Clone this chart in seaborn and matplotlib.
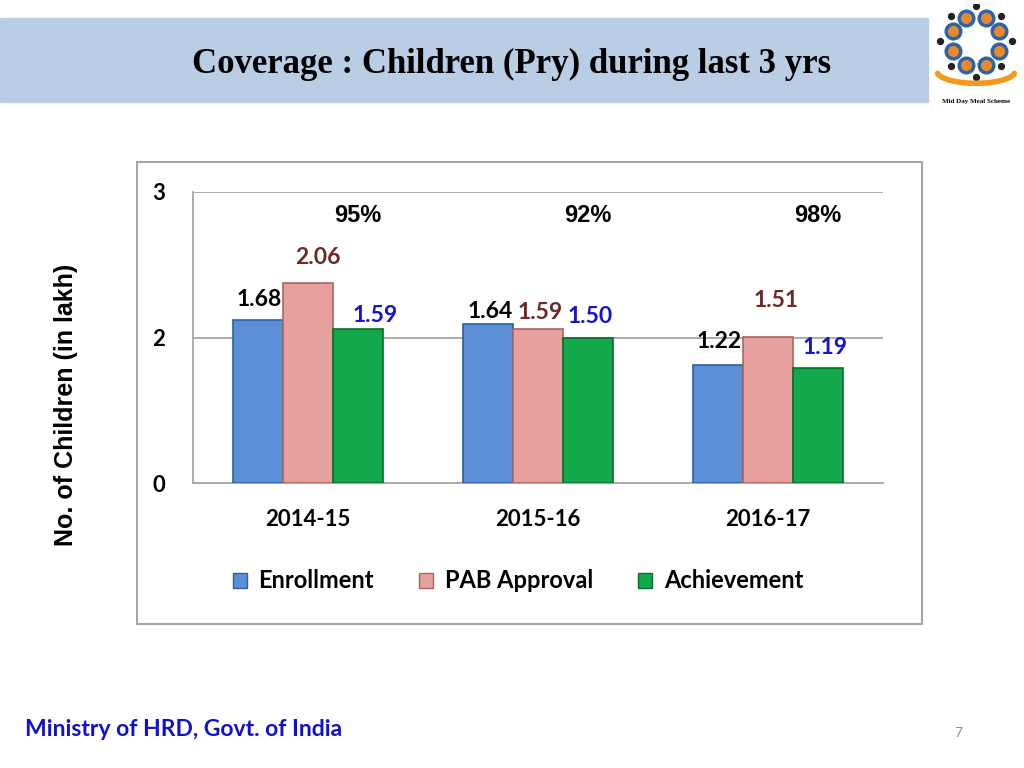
import numpy as np
import pandas as pd
import matplotlib
matplotlib.use("Agg")
import matplotlib.pyplot as plt
import matplotlib.patches as patches
from matplotlib.ticker import FixedLocator, FuncFormatter
import seaborn as sns

# data
years = ["2014-15", "2015-16", "2016-17"]
series = ["Enrollment", "PAB Approval", "Achievement"]
enrollment = [1.68, 1.64, 1.22]
pab_approval = [2.06, 1.59, 1.51]
achievement = [1.59, 1.50, 1.19]
pct_achieved = ["95%", "92%", "98%"]

colors = ["#5B8FD8", "#E6A19E", "#13A94B"]
edge_colors = ["#2F5F9E", "#A86562", "#0B6B2E"]
label_colors = ["#000000", "#6B2A2A", "#1414D2"]

df = pd.DataFrame({
    "year": years * 3,
    "series": [s for s in series for _ in years],
    "value": enrollment + pab_approval + achievement,
})

sns.set_theme(style="white")
plt.rcParams["font.family"] = ["Lato", "DejaVu Sans"]
plt.rcParams["text.color"] = "black"
plt.rcParams["xtick.color"] = "black"
plt.rcParams["ytick.color"] = "black"

fig = plt.figure(figsize=(10.24, 7.68), dpi=100)

# title band
fig.patches.append(patches.Rectangle((0, 1 - 102 / 768), 928 / 1024, 84 / 768,
                                     transform=fig.transFigure, color="#B9CDE5", zorder=0))
fig.text(512 / 1024, 1 - 64 / 768, "Coverage : Children (Pry) during last 3 yrs",
         family="Liberation Serif", weight="bold", fontsize=25, ha="center", va="center")

# chart frame
fig.patches.append(patches.Rectangle((137 / 1024, 1 - 624 / 768), 785 / 1024, 462 / 768,
                                     transform=fig.transFigure, fill=False,
                                     edgecolor="#A6A6A6", linewidth=1.5, zorder=0))

ax = fig.add_axes([193 / 1024, 1 - 483 / 768, 690 / 1024, 291 / 768])
sns.barplot(data=df, x="year", y="value", hue="series", palette=colors, saturation=1,
            width=0.65, gap=0, ax=ax, legend=False, zorder=3)

for container, ec in zip(ax.containers, edge_colors):
    for bar in container:
        bar.set_edgecolor(ec)
        bar.set_linewidth(1.2)

ax.set_xlim(-0.5, 2.5)
ax.set_ylim(0, 3)
ax.yaxis.set_major_locator(FixedLocator([0, 1.5, 3]))
ax.yaxis.set_major_formatter(FuncFormatter(lambda v, p: format(v, ".0f")))
ax.grid(axis="y", color="#A6A6A6", linewidth=1.3, zorder=0)
ax.set_axisbelow(True)
for side in ["top", "right"]:
    ax.spines[side].set_visible(False)
for side in ["left", "bottom"]:
    ax.spines[side].set_color("#A6A6A6")
    ax.spines[side].set_linewidth(1.3)

ax.tick_params(axis="y", length=7, color="#A6A6A6", width=1.3, pad=13, labelsize=16)
ax.tick_params(axis="x", length=0, pad=19, labelsize=16)
ax.xaxis.set_minor_locator(FixedLocator([0.5, 1.5, 2.5]))
ax.tick_params(axis="x", which="minor", length=7, color="#A6A6A6", width=1.3, direction="out")
for lbl in ax.get_xticklabels() + ax.get_yticklabels():
    lbl.set_fontweight("bold")
ax.set_xlabel("")
ax.set_ylabel("")

fig.text(66 / 1024, 1 - 405 / 768, "No. of Children (in lakh)", rotation=90,
         family="Liberation Sans", weight="bold", fontsize=18, ha="center", va="center")

# value labels (pixel offsets from each bar top)
offsets = [
    [(1, 21), (2, 12), (1, 23)],
    [(10, 26), (2, 16), (8, 36)],
    [(17, 13), (2, 21), (7, 20)],
]
for container, col, offs in zip(ax.containers, label_colors, offsets):
    for bar, (dx, dy) in zip(container, offs):
        h = bar.get_height()
        ax.annotate(f"{h:.2f}", (bar.get_x() + bar.get_width() / 2, h),
                    xytext=(dx, dy), textcoords="offset pixels",
                    ha="center", va="center", fontsize=16.5, weight="bold", color=col)

# achievement percentage per year
for i, p in enumerate(pct_achieved):
    ax.annotate(p, (i, 3), xytext=(50, -23), textcoords="offset pixels",
                ha="center", va="center", family="Liberation Sans",
                weight="bold", fontsize=17)

handles = [patches.Patch(facecolor=c, edgecolor=e) for c, e in zip(colors, edge_colors)]
fig.legend(handles, series, loc="center", bbox_to_anchor=(518 / 1024, 1 - 581 / 768),
           ncol=3, frameon=False, prop={"size": 17, "weight": "bold"},
           handlelength=0.6, handleheight=0.6, handletextpad=0.5, columnspacing=1.9)

# footer
fig.text(25 / 1024, 1 - 729 / 768, "Ministry of HRD, Govt. of India", color="#1111CC",
         fontsize=16.5, weight="bold", ha="left", va="center")
fig.text(958 / 1024, 1 - 733 / 768, "7", color="#8C8C8C", fontsize=10, ha="center", va="center")

# simple logo stand-in
lax = fig.add_axes([932 / 1024, 1 - 112 / 768, 88 / 1024, 108 / 768])
lax.set_xlim(-1.3, 1.3)
lax.set_ylim(-1.9, 1.3)
lax.axis("off")
ang = np.linspace(0, 2 * np.pi, 8, endpoint=False) + np.pi / 8
lax.scatter(np.cos(ang) * 0.75, np.sin(ang) * 0.75 + 0.2, s=110, facecolor="#E8892B",
            edgecolor="#2E63A8", linewidth=2.5)
lax.scatter(np.cos(ang + np.pi / 8) * 1.05, np.sin(ang + np.pi / 8) * 1.05 + 0.2, s=18, color="#222222")
t = np.linspace(np.pi * 1.05, np.pi * 1.95, 50)
lax.plot(np.cos(t) * 1.15, np.sin(t) * 0.35 - 0.7, color="#F39A1E", linewidth=4)
lax.text(0, -1.6, "Mid Day Meal Scheme", fontsize=5, ha="center", va="center",
         family="Liberation Serif", weight="bold")

fig.savefig("out.png", dpi=100)
